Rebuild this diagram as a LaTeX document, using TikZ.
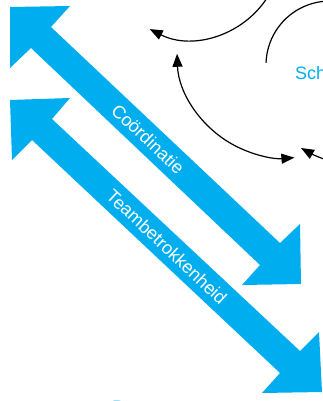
\documentclass[tikz,border=0pt]{standalone}
\usepackage{fontspec}
\setmainfont{Liberation Sans}
\usetikzlibrary{arrows.meta}
\definecolor{cblue}{RGB}{0,174,239}
\tikzset{
  bigarrow/.style={fill=cblue, draw=none},
  arrowlabel/.style={text=white, font=\fontsize{18}{20}\selectfont, inner sep=0pt, rotate=-43.3},
  bluelabel/.style={text=cblue, font=\fontsize{18}{20}\selectfont, inner sep=0pt, anchor=base west},
  loopline/.style={draw=black, line width=1.2pt, -{Triangle[length=13pt,width=10pt]}},
  plainline/.style={draw=black, line width=1.2pt},
}
\begin{document}
\begin{tikzpicture}[x=1pt,y=-1pt]
\useasboundingbox (0,0) rectangle (323,401);
\clip (0,0) rectangle (323,401);
% Coordinatie arrow
\fill[bigarrow] (10,7) -- (70,6) -- (51,27) -- (280,243) -- (300,224) -- (301,284) -- (242,285) -- (260,265) -- (31,48) -- (10,68) -- cycle;
% Teambetrokkenheid arrow
\fill[bigarrow] (10,100) -- (70,98) -- (52,119) -- (300,351) -- (319,332) -- (322,392) -- (262,393) -- (280,373) -- (32,140) -- (12,160) -- cycle;
\node[arrowlabel] (coord) at (148,139) {Coördinatie};
\node[arrowlabel] (team) at (167,247) {Teambetrokkenheid};
% black loops
\coordinate (c1) at (191,-52);
\draw[loopline] (c1) ++(30:91) arc (30:117:91);
\coordinate (c2) at (285,50);
\draw[loopline, {Triangle[length=13pt,width=10pt]}-{Triangle[length=13pt,width=10pt]}] (c2) ++(178:108) arc (178:85:108);
\coordinate (c3) at (330,65);
\draw[plainline] (c3) ++(182:64) arc (182:275:64);
\coordinate (s1) at (332,162);
\coordinate (s2) at (301,148);
\draw[loopline] (s1) to[bend left=5] (s2);
% blue labels
\node[bluelabel] (sch) at (295,80) {Sch};
\node[bluelabel] (p) at (112,413) {P};
\end{tikzpicture}
\end{document}
